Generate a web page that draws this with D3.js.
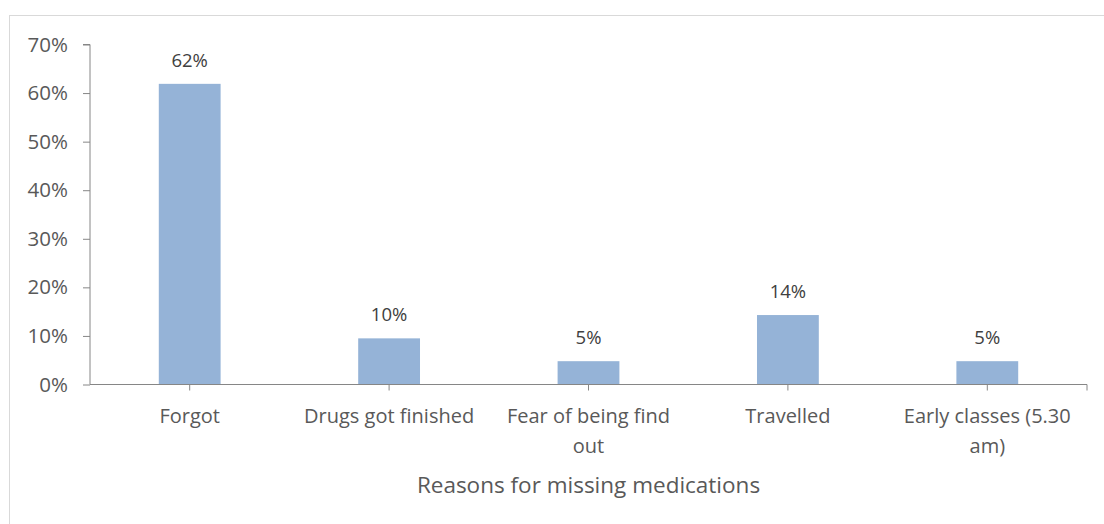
<!DOCTYPE html>
<html>
<head>
<meta charset="utf-8">
<script src="https://cdn.jsdelivr.net/npm/d3@7"></script>
<style>
  html, body { margin: 0; padding: 0; background: #fff; }
  svg { display: block; font-family: "Open Sans", sans-serif; }
</style>
</head>
<body>
<svg id="chart" width="1104" height="524"></svg>
<script>
// Reasons for missing medications (share of respondents)
const categories = ["Forgot", "Drugs got finished", "Fear of being find out", "Travelled", "Early classes (5.30 am)"];
const shares = [0.619, 0.095, 0.048, 0.143, 0.048];
const yTicks = [0, 0.1, 0.2, 0.3, 0.4, 0.5, 0.6, 0.7];
const xTitle = "Reasons for missing medications";

const W = 1104, H = 524;
const plot = { left: 90, right: 1087, top: 44.5, bottom: 384.5 };

const textColor = "#595959";
const axisColor = "#868686";
const barColor = "#95B3D7";
const pct = d3.format(".0%");

const svg = d3.select("#chart");

// chart area frame
svg.append("rect")
  .attr("x", 9.5).attr("y", 15.5)
  .attr("width", W + 20).attr("height", H + 20)
  .attr("fill", "#fff")
  .attr("stroke", "#D9D9D9")
  .attr("stroke-width", 1);

const x = d3.scaleBand()
  .domain(categories)
  .range([plot.left, plot.right])
  .paddingInner(0.69)
  .paddingOuter(0.345);

const y = d3.scaleLinear()
  .domain([0, 0.7])
  .range([plot.bottom, plot.top]);

// bars
svg.append("g").selectAll("rect")
  .data(categories)
  .join("rect")
  .attr("x", d => x(d))
  .attr("width", x.bandwidth())
  .attr("y", (d, i) => y(shares[i]))
  .attr("height", (d, i) => y(0) - y(shares[i]))
  .attr("fill", barColor);

// value labels
svg.append("g").selectAll("text")
  .data(categories)
  .join("text")
  .attr("x", d => x(d) + x.bandwidth() / 2)
  .attr("y", (d, i) => y(shares[i]) - 17)
  .attr("text-anchor", "middle")
  .attr("font-size", 18.5)
  .attr("fill", "#404040")
  .text((d, i) => pct(shares[i]));

// y axis
const yAxis = svg.append("g")
  .attr("transform", `translate(${plot.left},0)`)
  .call(d3.axisLeft(y).tickValues(yTicks).tickFormat(pct).tickSizeInner(7).tickSizeOuter(7).tickPadding(15));
yAxis.select(".domain").attr("stroke", axisColor).attr("d", `M-7,${plot.top}H0V${plot.bottom}`);
yAxis.selectAll(".tick line").attr("stroke", axisColor);
yAxis.selectAll(".tick text")
  .attr("font-size", 20.5)
  .attr("font-family", "\"Open Sans\", sans-serif")
  .attr("fill", textColor);

// x axis
const xAxis = svg.append("g")
  .attr("transform", `translate(0,${plot.bottom})`)
  .call(d3.axisBottom(x).tickSizeInner(6).tickSizeOuter(0).tickPadding(0));
xAxis.select(".domain").attr("stroke", axisColor).attr("d", `M${plot.left},0H${plot.right}V6`);
xAxis.selectAll(".tick line").attr("stroke", axisColor);
xAxis.selectAll(".tick text").remove();

// category labels, wrapped to the band step
const step = x.step();
const catGroup = svg.append("g")
  .attr("font-size", 20)
  .attr("fill", textColor)
  .attr("text-anchor", "middle");

categories.forEach(cat => {
  const cx = x(cat) + x.bandwidth() / 2;
  const t = catGroup.append("text").attr("x", cx).attr("y", 423);
  const words = cat.split(" ");
  let line = [];
  let lineNo = 0;
  let tspan = t.append("tspan").attr("x", cx).attr("y", 423);
  words.forEach(w => {
    line.push(w);
    tspan.text(line.join(" "));
    if (tspan.node().getComputedTextLength() > step - 4 && line.length > 1) {
      line.pop();
      tspan.text(line.join(" "));
      line = [w];
      lineNo += 1;
      tspan = t.append("tspan").attr("x", cx).attr("y", 423 + lineNo * 29.5).text(w);
    }
  });
});

// axis title
svg.append("text")
  .attr("x", (plot.left + plot.right) / 2)
  .attr("y", 493)
  .attr("text-anchor", "middle")
  .attr("font-size", 22.5)
  .attr("fill", textColor)
  .text(xTitle);
</script>
</body>
</html>
